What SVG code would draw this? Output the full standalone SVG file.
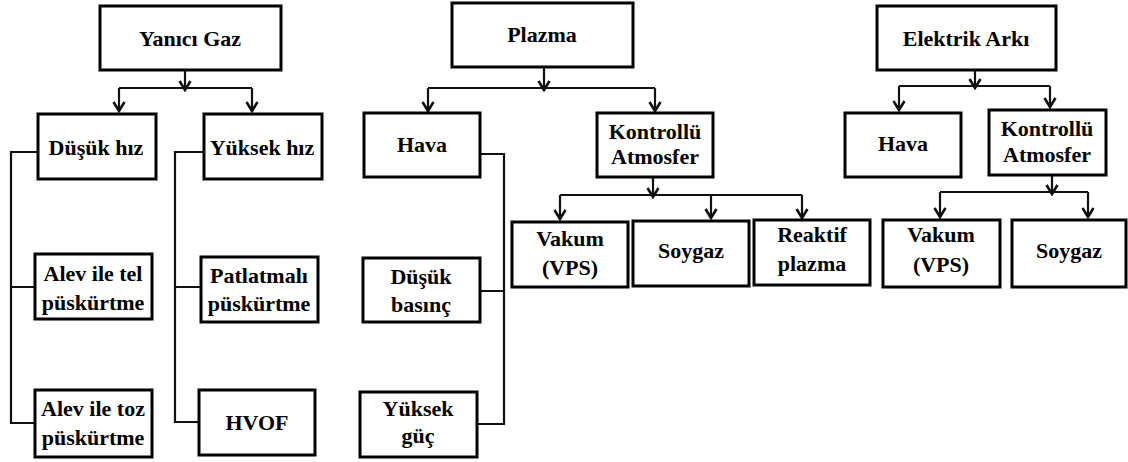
<svg xmlns="http://www.w3.org/2000/svg" width="1128" height="462" viewBox="0 0 1128 462">
<style>
.box{fill:#fff;stroke:#000;stroke-width:3}
.c{fill:none;stroke:#111;stroke-width:2.2}
.a{fill:none;stroke:#111;stroke-width:2.2;marker-end:url(#ah)}
</style>
<defs>
<marker id="ah" markerWidth="13" markerHeight="14" refX="11" refY="7" orient="auto" markerUnits="userSpaceOnUse" viewBox="0 0 13 14">
<polyline points="2,1.5 11,7 2,12.5" fill="none" stroke="#111" stroke-width="2.6"/>
</marker>
</defs>
<rect width="1128" height="462" fill="#fff"/>
<g id="connectors">
<path class="a" d="M185,70 V90"/>
<path class="c" d="M119,88 H252"/>
<path class="a" d="M119,88 V111"/>
<path class="a" d="M252,88 V111"/>
<path class="c" d="M38,152 H11 V423 H35 M11,287 H35"/>
<path class="c" d="M204,152 H175 V422 H199 M175,287 H201"/>
<path class="a" d="M544,67 V90"/>
<path class="c" d="M428,88 H655"/>
<path class="a" d="M428,88 V111"/>
<path class="a" d="M655,88 V111"/>
<path class="c" d="M480,154 H504 V424 H477 M504,291 H480"/>
<path class="a" d="M653,177 V197"/>
<path class="c" d="M560,195 H802"/>
<path class="a" d="M560,195 V219"/>
<path class="a" d="M711,195 V218"/>
<path class="a" d="M802,195 V218"/>
<path class="a" d="M975,70 V88"/>
<path class="c" d="M899,86 H1050"/>
<path class="a" d="M899,86 V110"/>
<path class="a" d="M1050,86 V107"/>
<path class="a" d="M1052,175 V194"/>
<path class="c" d="M940,192 H1088"/>
<path class="a" d="M940,192 V217"/>
<path class="a" d="M1088,192 V217"/>
</g>
<g font-weight="bold" font-size="22" fill="#000" text-anchor="middle">
<g id="yanici-gaz"><rect class="box" x="100" y="6" width="181" height="64"/><text font-family="Liberation Serif" x="190" y="46">Yanıcı Gaz</text></g>
<g id="dusuk-hiz"><rect class="box" x="38" y="114" width="118" height="65"/><text font-family="Liberation Serif" x="96" y="155">Düşük hız</text></g>
<g id="yuksek-hiz"><rect class="box" x="204" y="114" width="118" height="65"/><text font-family="Liberation Serif" x="262" y="155">Yüksek hız</text></g>
<g id="alev-tel"><rect class="box" x="35" y="254" width="117" height="65"/><text font-family="Liberation Serif" x="93" y="281">Alev ile tel</text><text font-family="Liberation Serif" x="93" y="310">püskürtme</text></g>
<g id="alev-toz"><rect class="box" x="35" y="390" width="117" height="67"/><text font-family="Liberation Serif" x="93" y="416">Alev ile toz</text><text font-family="Liberation Serif" x="93" y="445">püskürtme</text></g>
<g id="patlatmali"><rect class="box" x="201" y="257" width="117" height="65"/><text font-family="Liberation Serif" x="259" y="283">Patlatmalı</text><text font-family="Liberation Serif" x="259" y="311">püskürtme</text></g>
<g id="hvof"><rect class="box" x="199" y="390" width="116" height="65"/><text font-family="Liberation Serif" x="257" y="430">HVOF</text></g>
<g id="plazma"><rect class="box" x="452" y="3" width="181" height="64"/><text font-family="Liberation Serif" x="542" y="42">Plazma</text></g>
<g id="hava-1"><rect class="box" x="364" y="113" width="116" height="64"/><text font-family="Liberation Serif" x="422" y="152">Hava</text></g>
<g id="kontrollu-1"><rect class="box" x="597" y="113" width="116" height="64"/><text font-family="Liberation Serif" x="655" y="139">Kontrollü</text><text font-family="Liberation Serif" x="655" y="164">Atmosfer</text></g>
<g id="dusuk-basinc"><rect class="box" x="363" y="258" width="117" height="64"/><text font-family="Liberation Serif" x="421" y="284">Düşük</text><text font-family="Liberation Serif" x="421" y="312">basınç</text></g>
<g id="yuksek-guc"><rect class="box" x="360" y="392" width="117" height="65"/><text font-family="Liberation Serif" x="418" y="416">Yüksek</text><text font-family="Liberation Serif" x="418" y="443">güç</text></g>
<g id="vakum-1"><rect class="box" x="512" y="222" width="116" height="65"/><text font-family="Liberation Serif" x="570" y="246">Vakum</text><text font-family="Liberation Serif" x="570" y="275">(VPS)</text></g>
<g id="soygaz-1"><rect class="box" x="633" y="221" width="116" height="65"/><text font-family="Liberation Serif" x="691" y="258">Soygaz</text></g>
<g id="reaktif"><rect class="box" x="754" y="220" width="116" height="65"/><text font-family="Liberation Serif" x="812" y="242">Reaktif</text><text font-family="Liberation Serif" x="812" y="271">plazma</text></g>
<g id="elektrik-arki"><rect class="box" x="877" y="6" width="179" height="64"/><text font-family="Liberation Serif" x="966" y="46">Elektrik Arkı</text></g>
<g id="hava-2"><rect class="box" x="845" y="113" width="116" height="64"/><text font-family="Liberation Serif" x="903" y="151">Hava</text></g>
<g id="kontrollu-2"><rect class="box" x="989" y="110" width="117" height="65"/><text font-family="Liberation Serif" x="1047" y="136">Kontrollü</text><text font-family="Liberation Serif" x="1047" y="162">Atmosfer</text></g>
<g id="vakum-2"><rect class="box" x="883" y="220" width="117" height="67"/><text font-family="Liberation Serif" x="941" y="242">Vakum</text><text font-family="Liberation Serif" x="941" y="272">(VPS)</text></g>
<g id="soygaz-2"><rect class="box" x="1012" y="220" width="114" height="67"/><text font-family="Liberation Serif" x="1069" y="258">Soygaz</text></g>
</g>
</svg>
